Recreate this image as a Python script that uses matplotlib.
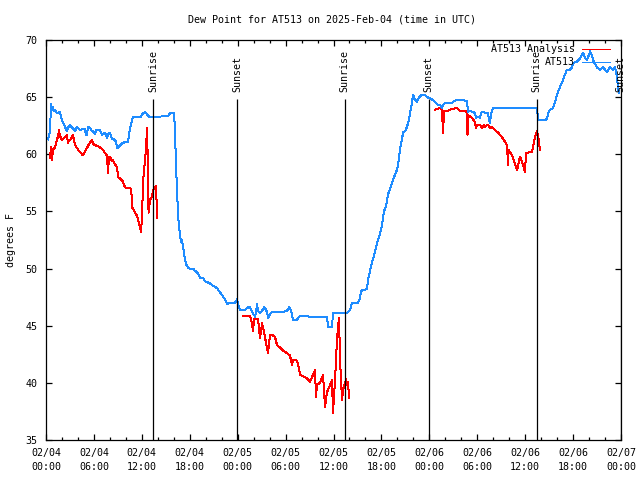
import numpy as np
import pandas as pd
import matplotlib
matplotlib.use("Agg")
from matplotlib import pyplot as plt
import matplotlib.dates as mdates

# hours after 2025-02-04 00:00 UTC
start = pd.Timestamp("2025-02-04 00:00")

blue_hours = [0.25, 0.50, 0.63, 0.75, 0.88, 1.00, 1.13, 1.38, 1.50, 1.75, 1.88, 2.00, 2.25, 2.38,
              2.63, 2.75, 3.01, 3.26, 3.38, 3.63, 3.88, 4.13, 4.26, 4.51, 4.88, 5.01, 5.13, 5.26,
              5.51, 5.76, 5.89, 6.14, 6.26, 6.51, 6.76, 7.01, 7.39, 7.64, 7.89, 8.01, 8.26, 8.51,
              8.77, 8.89, 9.02, 9.27, 9.64, 10.02, 10.27, 10.39, 10.52, 10.77, 10.89, 11.52, 11.90,
              12.15, 12.40, 12.65, 12.90, 13.40, 14.28, 15.28, 15.53, 16.03, 16.15, 16.28, 16.40,
              16.53, 16.65, 16.78, 16.90, 17.03, 17.16, 17.41, 17.53, 17.78, 18.03, 18.41, 18.66,
              19.03, 19.28, 19.66, 19.91, 20.54, 20.91, 21.41, 21.79, 22.04, 22.41, 22.67, 23.04,
              23.42, 23.67, 23.92, 24.04, 24.29, 24.92, 25.29, 25.54, 25.80, 26.17, 26.30, 26.42,
              26.55, 26.80, 27.05, 27.30, 27.42, 27.67, 27.80, 28.05, 28.30, 28.93, 29.68, 30.18,
              30.43, 30.55, 30.80, 30.93, 31.43, 31.56, 31.81, 33.06, 34.31, 35.19, 35.31, 35.81,
              35.94, 36.82, 37.69, 38.07, 38.32, 39.07, 39.32, 39.44, 39.57, 40.20, 40.32, 40.57,
              40.82, 41.20, 41.57, 41.82, 42.07, 42.32, 42.58, 42.83, 43.08, 43.33, 43.58, 43.83,
              44.08, 44.33, 44.58, 44.70, 44.95, 45.20, 45.45, 45.58, 45.83, 45.96, 46.21, 46.46,
              46.71, 47.08, 47.46, 47.71, 48.08, 48.46, 48.71, 49.09, 49.34, 49.59, 49.71, 49.96,
              50.21, 50.84, 51.21, 51.59, 52.09, 52.46, 52.72, 52.84, 53.09, 53.47, 53.72, 53.84,
              53.97, 54.34, 54.47, 54.60, 55.35, 55.47, 55.60, 55.72, 55.97, 56.22, 58.10, 59.35,
              61.48, 61.61, 61.98, 62.48, 62.74, 62.86, 63.11, 63.49, 63.74, 63.99, 64.36, 64.61,
              64.74, 64.99, 65.24, 65.61, 65.86, 65.99, 66.49, 66.87, 67.24, 67.49, 67.74, 67.99,
              68.12, 68.37, 68.50, 68.75, 68.99, 69.37, 69.75, 70.00, 70.25, 70.50, 70.62, 70.87,
              71.00, 71.25, 71.37, 71.50, 71.63, 71.75]
blue_vals = [61.3, 62.0, 64.4, 63.9, 64.1, 63.8, 63.9, 63.6, 63.6, 63.7, 63.3, 63.0, 62.6, 62.4,
             62.0, 62.3, 62.6, 62.3, 62.3, 62.0, 62.4, 62.2, 62.1, 62.2, 62.2, 61.7, 61.7, 62.4,
             62.3, 62.0, 62.0, 61.8, 62.1, 62.1, 62.1, 61.7, 61.9, 61.4, 61.9, 61.9, 61.3, 61.3,
             61.1, 60.6, 60.55, 60.8, 61.0, 61.1, 61.1, 61.6, 62.3, 63.0, 63.3, 63.3, 63.3,
             63.6, 63.7, 63.5, 63.3, 63.3, 63.3, 63.35, 63.6, 63.6, 62.1, 59.0, 56.9,
             54.8, 53.6, 53.0, 52.3, 52.5, 51.9, 50.75, 50.4, 50.1, 50.0, 50.0, 49.8,
             49.6, 49.2, 49.2, 48.9, 48.7, 48.5, 48.3, 47.9, 47.7, 47.3, 46.9, 47.0,
             47.0, 47.0, 47.3, 46.9, 46.4, 46.4, 46.6, 46.6, 46.2, 45.8, 46.2, 46.9,
             46.3, 46.1, 46.3, 46.6, 46.55, 46.2, 45.7, 46.0, 46.2, 46.2, 46.2, 46.3,
             46.6, 46.55, 46.0, 45.5, 45.5, 45.7, 45.85, 45.8, 45.8, 45.8, 44.9, 44.9,
             46.1, 46.1, 46.1, 46.4, 47.0, 47.0, 47.4, 48.0, 48.1, 48.2, 49.0, 49.8,
             50.5, 51.5, 52.5, 53.0, 53.8, 55.0, 55.5, 56.5, 57.0, 57.5, 58.0, 58.4,
             59.0, 60.5, 61.3, 61.9, 62.0, 62.4, 63.0, 63.6, 64.5, 65.2, 64.8, 64.6,
             65.0, 65.2, 65.2, 65.0, 64.9, 64.75, 64.6, 64.3, 64.3, 64.05, 64.3, 64.5,
             64.5, 64.5, 64.7, 64.75, 64.75, 64.7, 64.65, 63.7, 63.8, 63.7, 63.6, 63.2,
             63.3, 63.2, 63.6, 63.7, 63.6, 63.0, 62.75, 63.5, 64.05, 64.05, 64.05, 64.05,
             64.05, 63.0, 63.0, 63.0, 63.1, 63.6, 63.9, 64.05, 64.6, 65.2, 65.9, 66.3,
             66.5, 67.0, 67.4, 67.4, 67.6, 68.0, 68.1, 68.4, 68.9, 68.4, 68.25, 68.7,
             69.0, 68.6, 68.25, 67.9, 67.6, 67.4, 67.6, 67.4, 67.2, 67.5, 67.6, 67.5,
             67.4, 67.6, 67.2, 66.8, 65.8, 65.4]

nan = np.nan
red_hours = [0.50, 0.63, 0.75, 0.88, 1.00, 1.13, 1.25, 1.38, 1.50, 1.63, 1.75, 2.00, 2.25, 2.50,
             2.63, 2.75, 2.88, 3.01, 3.26, 3.38, 3.51, 3.63, 3.76, 3.88, 4.13, 4.26, 4.51, 4.63,
             4.76, 5.01, 5.13, 5.38, 5.76, 5.89, 6.14, 6.51, 6.76, 7.14, 7.39, 7.64, 7.76, 7.89,
             8.01, 8.26, 8.39, 8.64, 8.89, 9.02, 9.27, 9.64, 9.89, 10.27, 10.52, 10.64, 10.77,
             10.83, 11.02, 11.14, 11.40, 11.52, 11.65, 11.77, 11.90, 12.02, 12.15, 12.27, 12.40,
             12.52, 12.65, 12.77, 12.84, 13.02, 13.27, 13.40, 13.65, 13.77, 13.84, 13.90,
             nan,
             24.67, 25.54, 25.80, 25.92, 26.05, 26.55, 26.80, 27.05, 27.17, 27.42, 27.67, 27.80,
             28.05, 28.30, 28.68, 28.93, 29.30, 29.55, 29.93, 30.18, 30.55, 30.80, 30.93, 31.31,
             31.56, 31.81, 32.18, 32.68, 33.06, 33.31, 33.68, 33.81, 33.93, 34.31, 34.69, 34.94,
             35.19, 35.56, 35.81, 35.94, 36.19, 36.44, 36.69, 36.82, 37.07, 37.19, 37.44, 37.57,
             37.69, 37.82, 37.94,
             nan,
             48.71, 49.34, 49.59, 49.71, 49.84, 50.34, 50.59, 51.21, 51.46, 51.84, 52.46, 52.72,
             52.78, 52.84, 53.09, 53.35, 53.72, 53.84, 53.97, 54.34, 54.60, 54.85, 54.97, 55.35,
             55.60, 55.85, 56.22, 56.60, 57.10, 57.48, 57.73, 57.85, 57.91, 58.10, 58.48, 58.98,
             59.35, 59.73, 59.98, 60.10, 60.61, 60.86, 60.98, 61.23, 61.48, 61.61, 61.73, 61.86]
red_vals = [59.7, 60.6, 59.5, 60.4, 60.5, 60.55, 61.0, 61.25, 61.6, 62.1, 61.6, 61.25, 61.4, 61.6,
            61.7, 61.0, 61.2, 61.25, 61.5, 61.7, 61.2, 60.9, 60.6, 60.55, 60.3, 60.2, 60.0, 59.9,
            60.1, 60.4, 60.55, 60.9, 61.25, 60.9, 60.8, 60.7, 60.6, 60.4, 60.1, 59.9, 58.4, 59.8,
            59.8, 59.4, 59.5, 59.1, 58.9, 58.0, 57.9, 57.6, 57.1, 57.05, 57.05, 57.0, 56.0,
            55.3, 55.1, 54.9, 54.6, 54.25, 54.0, 53.6, 53.2, 54.5, 57.5, 58.6, 59.5,
            60.5, 62.3, 58.5, 54.9, 56.0, 56.3, 56.9, 57.05, 57.2, 56.0, 54.4,
            nan,
            45.85, 45.85, 45.2, 44.5, 45.6, 45.6, 43.9, 45.2, 44.9, 44.0, 43.15, 42.6,
            44.2, 44.2, 44.0, 43.3, 43.1, 42.9, 42.7, 42.6, 42.4, 41.55, 42.0, 42.0,
            41.7, 40.7, 40.6, 40.4, 40.1, 40.5, 41.1, 38.8, 39.8, 40.0, 40.7, 37.9,
            39.2, 39.8, 40.25, 37.4, 40.2, 43.9, 45.7, 42.0, 38.5, 39.4, 40.0, 40.3,
            39.8, 40.1, 38.7,
            nan,
            63.9, 64.05, 63.9, 61.85, 63.8, 63.8, 63.9, 64.0, 64.05, 63.8, 63.8, 63.7,
            61.7, 63.4, 63.3, 63.2, 62.8, 62.3, 62.6, 62.6, 62.3, 62.6, 62.4, 62.6,
            62.3, 62.4, 62.1, 61.9, 61.5, 61.1, 60.8, 59.1, 60.4, 60.2, 59.7, 58.6,
            59.8, 59.1, 58.45, 60.1, 60.2, 60.2, 60.6, 61.5, 62.0, 61.7, 61.0, 60.4]

sun_hours = [13.40, 23.92, 37.42, 47.92, 61.45, 71.97]
sun_labels = ["Sunrise", "Sunset", "Sunrise", "Sunset", "Sunrise", "Sunset"]

BLUE = "#1e8cff"
RED = "#ff0000"
FONT = "DejaVu Sans Mono"
FS = 7.2


def to_time(hours):
    return (start + pd.to_timedelta(np.array(hours, dtype=float), unit="h")).to_numpy()


fig = plt.figure(figsize=(6.4, 4.8), dpi=100)
ax = fig.add_axes([46 / 640, 40 / 480, 575 / 640, 400 / 480])

rt = to_time(red_hours)
bt = to_time(blue_hours)
ax.plot(rt, red_vals, color=RED, lw=0.72, antialiased=False)
ax.plot(bt, blue_vals, color=BLUE, lw=0.72, antialiased=False)

st = to_time(sun_hours)
ax.vlines(st, 35, 64.8, color="black", lw=0.9)
for t, lab in zip(st, sun_labels):
    ax.text(t, 65.45, lab, rotation=90, ha="center", va="bottom",
            family=FONT, fontsize=FS)

# key, gnuplot style
ax.text(0.92, 0.9775, "AT513 Analysis", transform=ax.transAxes, ha="right", va="center",
        family=FONT, fontsize=FS)
ax.plot([0.932, 0.981], [0.9775, 0.9775], transform=ax.transAxes, color=RED, lw=0.72,
        antialiased=False)
ax.text(0.92, 0.945, "AT513", transform=ax.transAxes, ha="right", va="center",
        family=FONT, fontsize=FS)
ax.plot([0.932, 0.981], [0.945, 0.945], transform=ax.transAxes, color=BLUE, lw=0.72,
        antialiased=False)

ax.set_xlim(start, start + pd.Timedelta(hours=72))
ax.set_ylim(35, 70)
ax.set_yticks(range(35, 71, 5))
ax.xaxis.set_major_locator(mdates.HourLocator(byhour=[0, 6, 12, 18]))
ax.xaxis.set_minor_locator(mdates.HourLocator(interval=2))
ax.xaxis.set_major_formatter(mdates.DateFormatter("%m/%d\n%H:%M"))

ax.tick_params(which="both", direction="in", top=True, right=True, labelsize=FS)
ax.tick_params(which="major", length=4, width=0.9)
ax.tick_params(which="minor", length=2.2, width=0.9)
ax.tick_params(axis="x", pad=6)
ax.tick_params(axis="y", pad=6)
for lab in ax.get_xticklabels() + ax.get_yticklabels():
    lab.set_family(FONT)
    lab.set_linespacing(1.45)
for s in ax.spines.values():
    s.set_linewidth(0.9)

fig.text(332 / 640, 1 - 19 / 480, "Dew Point for AT513 on 2025-Feb-04 (time in UTC)",
         ha="center", va="center", family=FONT, fontsize=FS)
fig.text(11 / 640, 0.5, "degrees F", rotation=90, ha="center", va="center",
         family=FONT, fontsize=FS)

fig.savefig("out.png", dpi=100)
